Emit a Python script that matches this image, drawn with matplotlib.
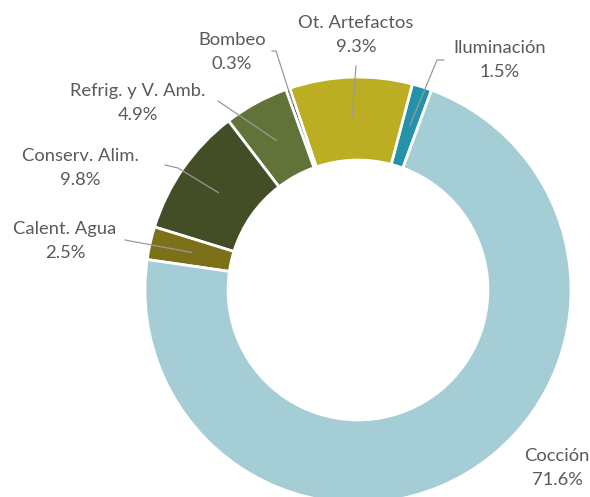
import matplotlib
matplotlib.use("Agg")
import matplotlib.pyplot as plt
import numpy as np

categories = ["Iluminación", "Ot. Artefactos", "Bombeo", "Refrig. y V. Amb.",
              "Conserv. Alim.", "Calent. Agua", "Cocción"]
values = [1.5, 9.3, 0.3, 4.9, 9.8, 2.5, 71.6]
pct_labels = ["1.5%", "9.3%", "0.3%", "4.9%", "9.8%", "2.5%", "71.6%"]
colors = ["#2293ab", "#bcae22", "#1c2a3c", "#617339", "#434e27", "#7c7018", "#a5cdd6"]

W, H = 590, 497
cx, cy, R = 358, 290, 213  # pixel layout of the donut

fig = plt.figure(figsize=(W / 100, H / 100), dpi=100)
ax = fig.add_axes([(cx - R) / W, (H - cy - R) / H, 2 * R / W, 2 * R / H])
ax.axis("off")

wedges, _ = ax.pie(values, colors=colors, startangle=69.8, counterclock=True,
                   radius=1.0, wedgeprops=dict(width=0.39, edgecolor="white", linewidth=2),
                   frame=False)
ax.set_xlim(-1, 1)
ax.set_ylim(-1, 1)
ax.set_aspect("auto")

def px2d(px, py):
    return (px - cx) / R, (cy - py) / R

# label layout: name center px, leader elbow px, horizontal end px, anchor radius
label_pos = [(500, 60), (356, 35), (232, 52), (138, 103), (80, 168), (65, 241), (557, 468)]
elbows = [((437, 60), (444, 60)), ((356, 66), None), ((276, 51), (272, 51)),
          ((218, 101), None), ((178, 168), (165, 165)), ((125, 240), None), None]
anchor_r = [0.81, 0.81, 0.93, 0.80, 0.80, 0.80, None]

txtcolor = "#5a5a5a"
font = ["Lato", "DejaVu Sans"]
for i, w in enumerate(wedges):
    ang = np.deg2rad((w.theta1 + w.theta2) / 2)
    lx, ly = px2d(*label_pos[i])
    ax.text(lx, ly, categories[i] + "\n" + pct_labels[i], ha="center", va="center",
            fontsize=13.2, color=txtcolor, family=font, linespacing=1.55, clip_on=False)
    if elbows[i] is not None:
        r = anchor_r[i]
        ax0, ay0 = r * np.cos(ang), r * np.sin(ang)
        e1 = px2d(*elbows[i][0])
        xs, ys = [ax0, e1[0]], [ay0, e1[1]]
        if elbows[i][1] is not None:
            e2 = px2d(*elbows[i][1])
            xs.append(e2[0]); ys.append(e2[1])
        ax.plot(xs, ys, color="#9a9a9a", lw=0.9, clip_on=False)

fig.savefig("out.png", dpi=100)
